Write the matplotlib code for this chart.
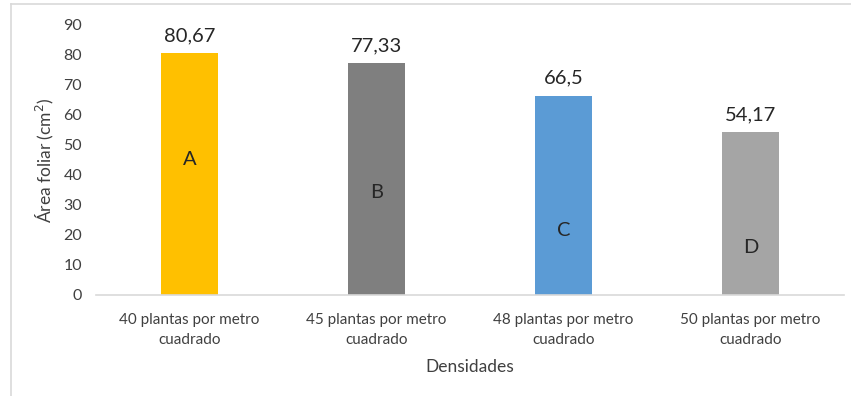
import matplotlib
matplotlib.use("Agg")
import matplotlib.pyplot as plt
from matplotlib.lines import Line2D

categories = ["40 plantas por metro\ncuadrado", "45 plantas por metro\ncuadrado",
              "48 plantas por metro\ncuadrado", "50 plantas por metro\ncuadrado"]
values = [80.67, 77.33, 66.5, 54.17]
value_labels = ["80,67", "77,33", "66,5", "54,17"]
groups = ["A", "B", "C", "D"]
group_label_y = [45.2, 34.0, 21.4, 15.8]
colors = ["#FFC000", "#7F7F7F", "#5B9BD5", "#A5A5A5"]
yticks = [0, 10, 20, 30, 40, 50, 60, 70, 80, 90]

plt.rcParams["font.family"] = ["Lato", "DejaVu Sans"]
text_color = "#404040"

fig = plt.figure(figsize=(8.51, 3.96), dpi=100)
ax = fig.add_axes([96 / 851, 1 - 295 / 396, (844 - 96) / 851, (295 - 25) / 396])

x = list(range(len(values)))
ax.bar(x, values, width=0.31, color=colors, zorder=2)

for xi, v, lab in zip(x, values, value_labels):
    ax.text(xi, v + 3.0, lab, ha="center", va="bottom", fontsize=14.5, color="#262626")
for xi, g, gy in zip(x, groups, group_label_y):
    ax.text(xi, gy, g, ha="center", va="center", fontsize=14.5, color="#262626")

ax.set_xlim(-0.5, len(values) - 0.5)
ax.set_ylim(0, 90)
ax.set_yticks(yticks)
ax.set_xticks(x)
ax.set_xticklabels(categories, fontsize=11, color=text_color, linespacing=1.5)
ax.tick_params(axis="y", labelsize=11.5, labelcolor=text_color, length=0, pad=10)
ax.tick_params(axis="x", length=0, pad=13)

for side in ["top", "right", "left"]:
    ax.spines[side].set_visible(False)
ax.spines["bottom"].set_color("#D9D9D9")
ax.spines["bottom"].set_linewidth(1.2)

ax.set_ylabel("Área foliar (cm$^2$)", fontsize=12.5, color=text_color, labelpad=5)
ax.set_xlabel("Densidades", fontsize=12.5, color=text_color, labelpad=9)

# chart frame (top and left edges)
fig.add_artist(Line2D([11 / 851, 1], [1 - 4 / 396, 1 - 4 / 396], transform=fig.transFigure,
                      color="#D9D9D9", linewidth=1.2))
fig.add_artist(Line2D([11 / 851, 11 / 851], [0, 1 - 4 / 396], transform=fig.transFigure,
                      color="#D9D9D9", linewidth=1.2))

fig.savefig("out.png", dpi=100)
